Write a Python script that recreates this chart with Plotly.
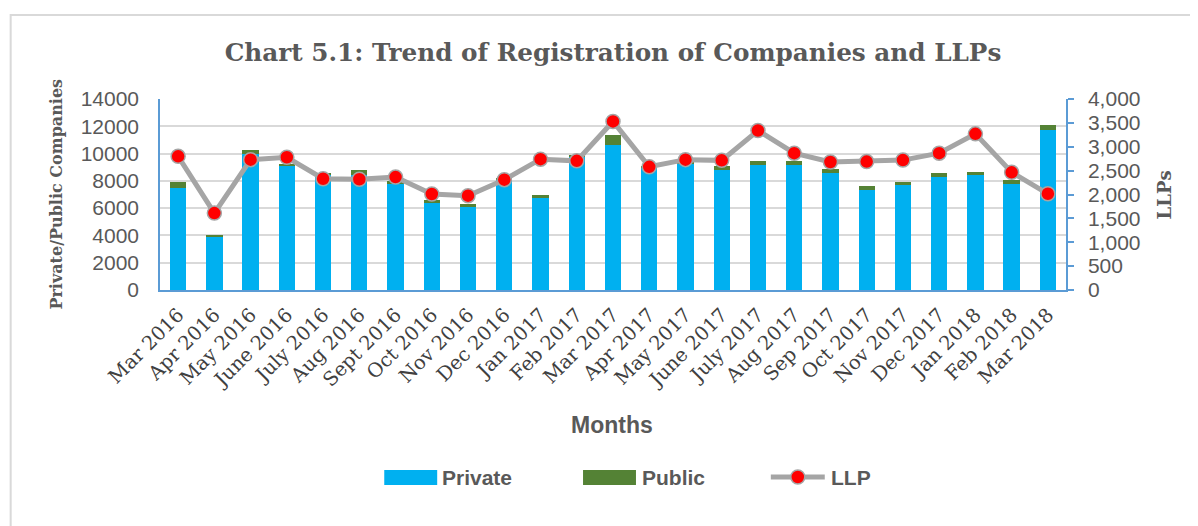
import plotly.graph_objects as go

months = [
    "Mar 2016", "Apr 2016", "May 2016", "June 2016", "July 2016", "Aug 2016",
    "Sept 2016", "Oct 2016", "Nov 2016", "Dec 2016", "Jan 2017", "Feb 2017",
    "Mar 2017", "Apr 2017", "May 2017", "June 2017", "July 2017", "Aug 2017",
    "Sep 2017", "Oct 2017", "Nov 2017", "Dec 2017", "Jan 2018", "Feb 2018",
    "Mar 2018",
]
private = [
    7490, 3850, 9950, 9070, 8460, 8460, 7760, 6370, 6100, 8120, 6730, 9760,
    10610, 8950, 9270, 8800, 9150, 9150, 8610, 7320, 7680, 8290, 8410, 7760,
    11730,
]
public = [
    390, 170, 290, 200, 130, 320, 240, 220, 240, 100, 270, 120,
    730, 100, 80, 300, 290, 290, 270, 270, 220, 300, 270, 290,
    340,
]
llp = [
    2800, 1610, 2730, 2780, 2330, 2320, 2365, 2010, 1975, 2310, 2740, 2705,
    3530, 2580, 2730, 2715, 3340, 2865, 2680, 2690, 2720, 2865, 3270, 2465,
    2015,
]

SERIF = "DejaVu Serif"
SANS = "Liberation Sans"
AXIS_BLUE = "#5B9BD5"
TEXT = "#595959"
C_PRIV, C_PUB, C_LLP = "#00B0F0", "#548235", "#A5A5A5"

# the page body has an 8px margin, so the figure is a bit smaller
W, H = 1190, 518
L, T, PW, PH = 151.5, 91, 907, 191
R, B = W - L - PW, H - T - PH
OFF = 8


def px(x):
    """page pixel x -> paper x"""
    return (x - OFF - L) / PW


def py(y):
    """page pixel y -> paper y"""
    return (T + PH - (y - OFF)) / PH


fig = go.Figure()
fig.add_trace(go.Bar(x=months, y=private, name="Private",
                     marker=dict(color=C_PRIV, line=dict(width=0))))
fig.add_trace(go.Bar(x=months, y=public, name="Public",
                     marker=dict(color=C_PUB, line=dict(width=0))))
fig.add_trace(go.Scatter(
    x=months, y=llp, name="LLP", yaxis="y2", mode="lines+markers",
    line=dict(color=C_LLP, width=5),
    marker=dict(color="#FF0000", size=14, line=dict(color=C_LLP, width=1.5)),
))

shapes = [
    # outer chart frame
    dict(type="rect", xref="paper", yref="paper",
         x0=px(10), x1=px(1300), y0=py(600), y1=py(15),
         line=dict(color="#D9D9D9", width=2), layer="below"),
    # legend keys
    dict(type="rect", xref="paper", yref="paper",
         x0=px(384), x1=px(437), y0=py(485), y1=py(470),
         fillcolor=C_PRIV, line=dict(width=0)),
    dict(type="rect", xref="paper", yref="paper",
         x0=px(583), x1=px(636), y0=py(485), y1=py(470),
         fillcolor=C_PUB, line=dict(width=0)),
    dict(type="line", xref="paper", yref="paper",
         x0=px(771), x1=px(825), y0=py(477), y1=py(477),
         line=dict(color=C_LLP, width=5)),
    dict(type="circle", xref="paper", yref="paper",
         x0=px(791), x1=px(805), y0=py(484), y1=py(470),
         fillcolor="#FF0000", line=dict(color=C_LLP, width=1.5)),
]


def note(text, x, y, font, angle=0, xanchor="center"):
    return dict(text=text, x=px(x), y=py(y), xref="paper", yref="paper",
                xanchor=xanchor, yanchor="middle", showarrow=False,
                textangle=angle, font=font)


leg_font = dict(family=SANS, size=21, color=TEXT)
annotations = [
    note("<b>Months</b>", 612, 425, dict(family=SANS, size=23, color=TEXT)),
    note("<b>Private/Public Companies</b>", 55, 194,
         dict(family=SERIF, size=16, color=TEXT), angle=-90),
    note("<b>LLPs</b>", 1165, 195, dict(family=SERIF, size=18, color=TEXT), angle=-90),
    note("<b>Private</b>", 440, 477, leg_font, xanchor="left"),
    note("<b>Public</b>", 640, 477, leg_font, xanchor="left"),
    note("<b>LLP</b>", 829, 477, leg_font, xanchor="left"),
]

fig.update_layout(
    width=W, height=H,
    barmode="stack", bargap=0.55, showlegend=False,
    margin=dict(l=L, r=R, t=T, b=B),
    paper_bgcolor="white", plot_bgcolor="white",
    title=dict(text="<b>Chart 5.1: Trend of Registration of Companies and LLPs</b>",
               x=0.5, xref="paper", xanchor="center",
               y=1 - (52 - OFF) / H, yanchor="middle",
               font=dict(family=SERIF, size=24.7, color=TEXT)),
    xaxis=dict(
        range=[-0.5, len(months) - 0.5],
        tickangle=-45, tickfont=dict(family=SERIF, size=19.5, color="#404040"),
        showline=True, linecolor=AXIS_BLUE, linewidth=1.5, ticks="",
        ticklabelstandoff=4, automargin=False,
    ),
    yaxis=dict(
        range=[0, 14000], dtick=2000, tickformat="d",
        tickfont=dict(family=SANS, size=21, color=TEXT),
        showgrid=True, gridcolor="#D9D9D9", gridwidth=1.5,
        showline=True, linecolor=AXIS_BLUE, linewidth=1.5, zeroline=False,
        ticklabelstandoff=15, automargin=False,
    ),
    yaxis2=dict(
        overlaying="y", side="right", range=[0, 4000], dtick=500, tickformat=",d",
        tickfont=dict(family=SANS, size=21, color=TEXT),
        showgrid=False, showline=True, linecolor=AXIS_BLUE, linewidth=1.5,
        ticks="outside", tickcolor=AXIS_BLUE, ticklen=6, tickwidth=1.5,
        ticklabelstandoff=10, zeroline=False, automargin=False,
    ),
    shapes=shapes,
    annotations=annotations,
)

fig.write_html("out.html")
